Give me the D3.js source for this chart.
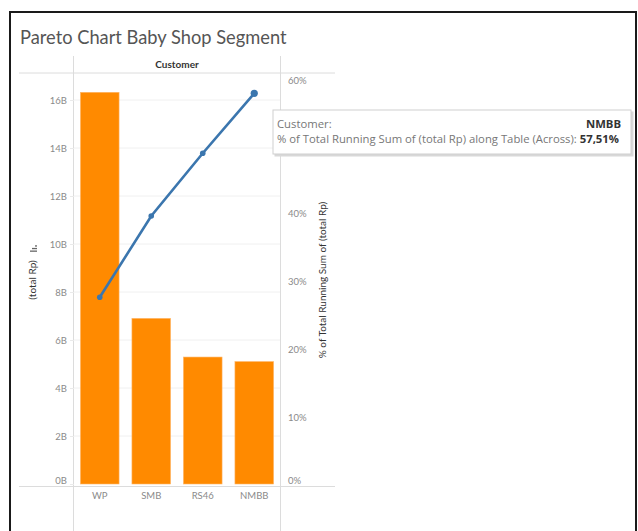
<!DOCTYPE html>
<html>
<head>
<meta charset="utf-8">
<script src="https://cdn.jsdelivr.net/npm/d3@7/dist/d3.min.js"></script>
<style>
  html, body { margin: 0; padding: 0; background: #fff; }
  svg { display: block; font-family: Lato, "Open Sans", sans-serif; }
</style>
</head>
<body>
<svg id="chart" width="638" height="531"></svg>
<script>
// Customers, ordered by total Rp (descending)
const customers = ["WP", "SMB", "RS46", "NMBB"];
// total Rp per customer, in billions
const totalRp = [16.32, 6.90, 5.29, 5.10];
// % of total running sum of (total Rp) along the table
const runningPct = [27.48, 39.45, 48.68, 57.51];
// axis ticks
const leftTicks = [0, 2, 4, 6, 8, 10, 12, 14, 16];
const rightTicks = [0, 10, 20, 30, 40, 60];

const svg = d3.select("#chart");

// outer frame
svg.append("rect")
  .attr("x", 10).attr("y", 12).attr("width", 626).attr("height", 530)
  .attr("fill", "none").attr("stroke", "#1a1a1a").attr("stroke-width", 2);

// title
svg.append("text")
  .attr("x", 20).attr("y", 44)
  .attr("font-size", 18.3).attr("fill", "#555")
  .text("Pareto Chart Baby Shop Segment");

const pane = { left: 74, right: 280, top: 73, bottom: 484 };

const x = d3.scaleBand().domain(customers)
  .range([pane.left, pane.right]).paddingInner(0.25).paddingOuter(0.125);
const yL = d3.scaleLinear().domain([0, 16]).range([484, 100]);
const yR = d3.scaleLinear().domain([0, 57.51]).range([484, 93.3]);

const rule = "#dcdcdc";

// header and structural rules
svg.append("line").attr("x1", 19).attr("x2", 335).attr("y1", 73).attr("y2", 73)
  .attr("stroke", rule);
svg.append("line").attr("x1", 19).attr("x2", 335).attr("y1", 486.5).attr("y2", 486.5)
  .attr("stroke", rule);
[pane.left - 0.5, pane.right + 0.5].forEach(v => {
  svg.append("line").attr("x1", v).attr("x2", v).attr("y1", 56).attr("y2", 531)
    .attr("stroke", rule);
});

svg.append("text")
  .attr("x", (pane.left + pane.right) / 2).attr("y", 68)
  .attr("text-anchor", "middle").attr("font-size", 10).attr("font-weight", 700)
  .attr("fill", "#333").text("Customer");

// gridlines
svg.append("g").selectAll("line").data(leftTicks.filter(d => d > 0)).join("line")
  .attr("x1", pane.left).attr("x2", pane.right)
  .attr("y1", d => yL(d)).attr("y2", d => yL(d))
  .attr("stroke", "#f0f0f0");

// left axis
const leftAxis = d3.axisLeft(yL).tickValues(leftTicks)
  .tickFormat(d => d + "B").tickSize(4).tickPadding(3);
const gL = svg.append("g").attr("transform", `translate(${pane.left},0)`).call(leftAxis);
gL.select(".domain").remove();
gL.selectAll(".tick line").attr("stroke", "#eaeaea");
gL.selectAll(".tick text").attr("fill", "#8a8a8a").attr("font-size", 9.5)
  .attr("font-family", "Lato, sans-serif")
  .attr("dy", d => d === 0 ? "-0.1em" : "0.32em");

// right axis
const rightAxis = d3.axisRight(yR).tickValues(rightTicks)
  .tickFormat(d => d + "%").tickSize(0).tickPadding(8);
const gR = svg.append("g").attr("transform", `translate(${pane.right},0)`).call(rightAxis);
gR.select(".domain").remove();
gR.selectAll(".tick text").attr("fill", "#8a8a8a").attr("font-size", 9.5)
  .attr("font-family", "Lato, sans-serif")
  .attr("dy", d => d === 0 ? "-0.1em" : (d === 60 ? "0.8em" : "0.45em"));

// axis titles
svg.append("text")
  .attr("transform", "translate(36,280) rotate(-90)")
  .attr("text-anchor", "middle").attr("font-size", 10).attr("fill", "#333")
  .text("(total Rp)");
// sort indicator (descending bars, turned with the title)
const sortIcon = svg.append("g").attr("fill", "#666");
[7, 5, 2].forEach((len, i) => {
  sortIcon.append("rect")
    .attr("x", 37 - len).attr("y", 250.5 - i * 2.6)
    .attr("width", len).attr("height", 1.3);
});
svg.append("text")
  .attr("transform", "translate(326,280) rotate(-90)")
  .attr("text-anchor", "middle").attr("font-size", 10).attr("fill", "#333")
  .text("% of Total Running Sum of (total Rp)");

// bars
svg.append("g").selectAll("rect").data(customers).join("rect")
  .attr("x", d => x(d)).attr("width", x.bandwidth())
  .attr("y", (d, i) => yL(totalRp[i]))
  .attr("height", (d, i) => yL(0) - yL(totalRp[i]))
  .attr("fill", "#ff8a00").attr("stroke", "#ffb566").attr("stroke-width", 0.6);

// category labels
svg.append("g").selectAll("text").data(customers).join("text")
  .attr("x", d => x(d) + x.bandwidth() / 2).attr("y", 499)
  .attr("text-anchor", "middle").attr("font-size", 9.5).attr("fill", "#8a8a8a")
  .text(d => d);

// running-sum line
const line = d3.line()
  .x((d, i) => x(customers[i]) + x.bandwidth() / 2)
  .y(d => yR(d));
svg.append("path").datum(runningPct)
  .attr("d", line).attr("fill", "none")
  .attr("stroke", "#3b76ae").attr("stroke-width", 2.6);
svg.append("g").selectAll("circle").data(runningPct).join("circle")
  .attr("cx", (d, i) => x(customers[i]) + x.bandwidth() / 2)
  .attr("cy", d => yR(d))
  .attr("r", (d, i) => i === runningPct.length - 1 ? 3.6 : 2.8)
  .attr("fill", "#3b76ae");

// tooltip for the last customer
const last = customers.length - 1;
const tip = svg.append("g").attr("transform", "translate(273,110)")
  .attr("font-family", "'Open Sans', sans-serif");
tip.append("rect").attr("x", 1.5).attr("y", 1.5).attr("width", 359).attr("height", 45)
  .attr("fill", "#d8d8d8");
tip.append("rect").attr("x", 0).attr("y", 0).attr("width", 358).attr("height", 44)
  .attr("fill", "#fff").attr("stroke", "#cfcfcf");
tip.append("text").attr("x", 4).attr("y", 18).attr("font-size", 11.3).attr("fill", "#777")
  .text("Customer:");
tip.append("text").attr("x", 348).attr("y", 18).attr("text-anchor", "end")
  .attr("font-size", 11.3).attr("font-weight", 700).attr("fill", "#333")
  .text(customers[last]);
const t2 = tip.append("text").attr("x", 4).attr("y", 33).attr("font-size", 11.3);
t2.append("tspan").attr("fill", "#777")
  .text("% of Total Running Sum of (total Rp) along Table (Across): ");
t2.append("tspan").attr("fill", "#333").attr("font-weight", 700)
  .text(runningPct[last].toFixed(2).replace(".", ",") + "%");
</script>
</body>
</html>
